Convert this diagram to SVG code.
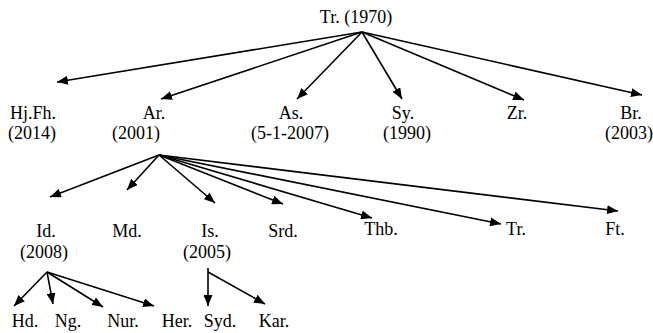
<svg xmlns="http://www.w3.org/2000/svg" width="653" height="333" viewBox="0 0 653 333">
<defs>
<marker id="ah" markerUnits="userSpaceOnUse" markerWidth="11" markerHeight="9" refX="11" refY="4.5" orient="auto">
<path d="M0,0 L11,4.5 L0,9 z" fill="#000"/>
</marker>
<style>
text{font-family:"Liberation Serif","DejaVu Serif",serif;font-size:18px;fill:#000;text-anchor:middle}
.c line{stroke:#000;stroke-width:1.6;marker-end:url(#ah)}
</style>
</defs>
<rect width="653" height="333" fill="#fff"/>
<g id="root"><text x="356" y="23">Tr. (1970)</text></g>
<g id="hjfh"><text x="33" y="119">Hj.Fh.</text><text x="32" y="139">(2014)</text></g>
<g id="ar"><text x="154" y="119">Ar.</text><text x="136" y="139">(2001)</text></g>
<g id="as"><text x="291" y="119">As.</text><text x="290" y="139">(5-1-2007)</text></g>
<g id="sy"><text x="403" y="119">Sy.</text><text x="407" y="139">(1990)</text></g>
<g id="zr"><text x="517" y="119">Zr.</text></g>
<g id="br"><text x="631" y="119">Br.</text><text x="629" y="139">(2003)</text></g>
<g id="id"><text x="46" y="237">Id.</text><text x="44" y="258">(2008)</text></g>
<g id="md"><text x="127" y="237">Md.</text></g>
<g id="is"><text x="210" y="237">Is.</text><text x="207" y="258">(2005)</text></g>
<g id="srd"><text x="283" y="237">Srd.</text></g>
<g id="thb"><text x="381" y="235">Thb.</text></g>
<g id="tr2"><text x="516" y="235">Tr.</text></g>
<g id="ft"><text x="615" y="235">Ft.</text></g>
<g id="hd"><text x="25" y="327">Hd.</text></g>
<g id="ng"><text x="68" y="327">Ng.</text></g>
<g id="nur"><text x="123" y="327">Nur.</text></g>
<g id="her"><text x="177" y="327">Her.</text></g>
<g id="syd"><text x="220" y="327">Syd.</text></g>
<g id="kar"><text x="274" y="327">Kar.</text></g>
<g id="connectors" class="c">
<line x1="362" y1="32" x2="57" y2="82"/>
<line x1="362" y1="32" x2="161" y2="99"/>
<line x1="362" y1="32" x2="297" y2="99"/>
<line x1="362" y1="32" x2="402" y2="99"/>
<line x1="362" y1="32" x2="524" y2="100"/>
<line x1="362" y1="32" x2="642" y2="95"/>
<line x1="159" y1="155" x2="50" y2="197"/>
<line x1="159" y1="155" x2="127" y2="190"/>
<line x1="159" y1="155" x2="215" y2="203"/>
<line x1="159" y1="155" x2="283" y2="204"/>
<line x1="159" y1="155" x2="372" y2="218"/>
<line x1="159" y1="155" x2="501" y2="224"/>
<line x1="159" y1="155" x2="618" y2="211"/>
<line x1="47" y1="272" x2="14" y2="306"/>
<line x1="47" y1="272" x2="53" y2="304"/>
<line x1="47" y1="272" x2="103" y2="307"/>
<line x1="47" y1="272" x2="154" y2="306"/>
<line x1="208" y1="268" x2="208" y2="306"/>
<line x1="208" y1="272" x2="265" y2="304"/>
</g>
</svg>
